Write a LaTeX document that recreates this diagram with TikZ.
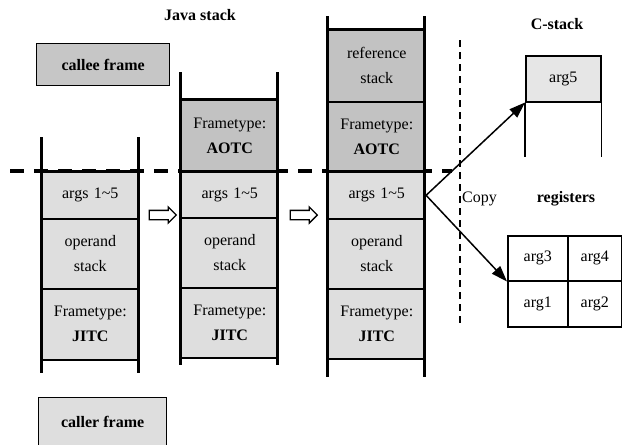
\documentclass[tikz,border=0pt]{standalone}
\usepackage{fontspec}
\setmainfont{Liberation Serif}
\usetikzlibrary{arrows.meta,shapes.arrows}
\definecolor{cellfill}{HTML}{DEDEDE}
\definecolor{darkfill}{HTML}{C2C2C2}
\definecolor{calleefill}{HTML}{C6C6C6}
\definecolor{argfill}{HTML}{E6E6E6}
\begin{document}
\begin{tikzpicture}[x=1pt,y=-1pt,
  font=\fontsize{16}{25}\selectfont,
  cell/.style={draw, line width=1.6pt, fill=cellfill, minimum width=97pt, inner sep=0pt,
    align=center, text width=95pt, anchor=north west},
  dark/.style={fill=darkfill},
  wall/.style={line width=3pt},
  title/.style={font=\fontsize{16}{25}\selectfont\bfseries},
  frame/.style={draw, line width=1.3pt, anchor=north west, inner sep=0pt, font=\fontsize{16}{25}\selectfont\bfseries},
  reg/.style={draw, line width=1.5pt, fill=white, anchor=north west, inner sep=0pt},
  hollow/.style={single arrow, draw, line width=1.3pt, fill=white, minimum height=27pt,
    minimum width=15pt, inner sep=0pt, inner ysep=4pt, single arrow head extend=3.5pt},
  conn/.style={line width=1.5pt, -{Triangle[length=16pt,width=11pt]}}]
\clip (0,0) rectangle (622,445);
\useasboundingbox (0,0) rectangle (622,445);

% titles
\node[title] (jt) at (200,15) {Java stack};
\node[title] (ct) at (557,24) {C-stack};
\node[title] (rt) at (566,199) {registers};

% dashed separator
\draw[line width=4pt, dash pattern=on 14pt off 10pt] (10,171) -- (452,171);
\draw[line width=1.3pt, dash pattern=on 7pt off 5pt] (460,40) -- (460,327);

% callee / caller frames
\node[frame, fill=calleefill, minimum width=133pt, minimum height=42pt] (callee) at (36,43) {callee frame};
\node[frame, fill=cellfill, minimum width=128pt, minimum height=49pt] (caller) at (38,397) {caller frame};

% stack 1
\node[cell, minimum height=47pt] (s1a) at (41,171) {args 1\textasciitilde5};
\node[cell, minimum height=70pt] (s1o) at (41,218) {operand\\stack};
\node[cell, minimum height=71pt] (s1j) at (41,288) {Frametype:\\\textbf{JITC}};
\draw[wall] (41,137) -- (41,373);
\draw[wall] (138,137) -- (138,373);
\draw[wall] (s1a.north west) -- (s1a.north east);

% stack 2
\node[cell, dark, minimum height=72pt] (s2f) at (180.5,99) {Frametype:\\\textbf{AOTC}};
\node[cell, minimum height=46pt] (s2a) at (180.5,171) {args 1\textasciitilde5};
\node[cell, minimum height=70pt] (s2o) at (180.5,217) {operand\\stack};
\node[cell, minimum height=70pt] (s2j) at (180.5,287) {Frametype:\\\textbf{JITC}};
\draw[wall] (180.5,72) -- (180.5,365);
\draw[wall] (277.5,72) -- (277.5,365);
\draw[wall] (s2a.north west) -- (s2a.north east);
\draw[wall] (s2f.north west) -- (s2f.north east);

% stack 3
\node[cell, dark, minimum height=72pt] (s3r) at (327.5,29) {reference\\stack};
\node[cell, dark, minimum height=70pt] (s3f) at (327.5,101) {Frametype:\\\textbf{AOTC}};
\node[cell, minimum height=47pt] (s3a) at (327.5,171) {args 1\textasciitilde5};
\node[cell, minimum height=70pt] (s3o) at (327.5,218) {operand\\stack};
\node[cell, minimum height=70pt] (s3j) at (327.5,288) {Frametype:\\\textbf{JITC}};
\draw[wall] (327.5,16) -- (327.5,377);
\draw[wall] (424.5,16) -- (424.5,377);
\draw[wall] (s3a.north west) -- (s3a.north east);
\draw[wall] (s3r.north west) -- (s3r.north east);

% hollow arrows
\node[hollow] (h1) at (160.5,215) {};
\node[hollow] (h2) at (301.5,215) {};

% copy label
\node[anchor=west, inner sep=1pt] (copy) at (461,199) {Copy};

% C-stack
\node[reg, fill=argfill, minimum width=75pt, minimum height=46pt] (a5) at (525,55) {arg5};
\draw[line width=1.5pt] (a5.south west) -- ++(0,54);
\draw[line width=1.5pt] (a5.south east) -- ++(0,54);

% registers
\node[reg, minimum width=60pt, minimum height=45pt] (r3) at (507,235) {arg3};
\node[reg, minimum width=54pt, minimum height=45pt] (r4) at (567,235) {arg4};
\node[reg, minimum width=60pt, minimum height=46pt] (r1) at (507,280) {arg1};
\node[reg, minimum width=54pt, minimum height=46pt] (r2) at (567,280) {arg2};

% connectors
\draw[conn] (s3a.east) -- (a5.south west);
\draw[conn] (s3a.east) -- (r3.south west);
\end{tikzpicture}
\end{document}
